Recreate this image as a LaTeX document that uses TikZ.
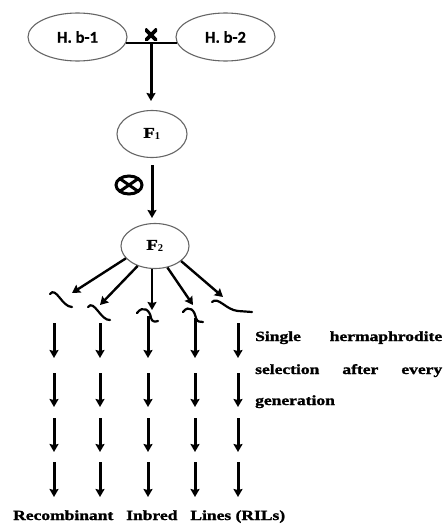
\documentclass[tikz,border=0pt]{standalone}
\usepackage{fontspec}
\setmainfont{Liberation Serif}
\newfontfamily\labelfont[FakeStretch=1.25,BoldFeatures={FakeBold=1.5}]{Liberation Serif}
\newfontfamily\parentfont[BoldFeatures={FakeBold=0.6}]{Carlito}
\usetikzlibrary{shapes.geometric,arrows.meta}

\tikzset{
  parent/.style={ellipse, draw=black!60, line width=1.1pt, minimum width=99pt,
    minimum height=48pt, inner sep=0pt, font=\parentfont\fontsize{16.5}{18}\selectfont\bfseries},
  gen/.style={ellipse, draw=black!60, line width=1.1pt, minimum width=70pt,
    minimum height=47pt, inner sep=0pt, font=\labelfont\fontsize{15}{17}\selectfont\bfseries},
  note/.style={inner sep=0pt, anchor=base west, font=\labelfont\fontsize{14}{16}\selectfont\bfseries},
  flow/.style={line width=3pt, -{Stealth[length=8pt,width=9pt,inset=1pt]}},
  fan/.style={line width=2.4pt, -{Stealth[length=8pt,width=9pt,inset=1pt]}},
  wave/.style={line width=2.2pt, line cap=round},
}

\begin{document}
\begin{tikzpicture}[x=1pt,y=-1pt]
\useasboundingbox (0,0) rectangle (443,524);

% parents and the cross between them
\node[parent] (hb1) at (77.5,37) {H. b-1};
\node[parent] (hb2) at (225.5,37) {H. b-2};
\coordinate (join) at (151,43);
\draw[line width=2.2pt] (hb1.-7) -- (hb2.187);
\node[minimum width=12pt, minimum height=12pt, inner sep=0pt,
  path picture={\draw[line width=3.8pt]
    (path picture bounding box.north west) -- (path picture bounding box.south east)
    (path picture bounding box.south west) -- (path picture bounding box.north east);}]
  (cross) at (151,35) {};

% generations
\node[gen] (f1) at (152,134) {F$_\mathbf{1}$};
\node[gen, minimum width=68pt, minimum height=45pt] (f2) at (155,246) {F$_\mathbf{2}$};
\coordinate (f1low) at (152,165);
\coordinate (f2high) at (152,218);
\draw[flow] (join) -- (join |- 0,101);
\draw[flow] (f1low) -- (f2high);

% selfing symbol
\node[ellipse, draw, line width=3pt, minimum width=26pt, minimum height=18pt, inner sep=0pt,
  path picture={\draw[line width=3pt]
    (path picture bounding box.north west) -- (path picture bounding box.south east)
    (path picture bounding box.south west) -- (path picture bounding box.north east);}]
  (self) at (129,185) {};

% single plants drawn from the F2
\coordinate (t1) at (72,293);
\coordinate (t2) at (100,305);
\coordinate (t3) at (152,310);
\coordinate (t4) at (193,305);
\coordinate (t5) at (223,297);
\draw[fan] (f2.203) -- (t1);
\draw[fan] (f2.229) -- (t2);
\draw[fan] (t3 |- f2.south) -- (t3);
\draw[fan] (f2.300) -- (t4);
\draw[fan] (f2.330) -- (t5);

\draw[wave] (50,294) .. controls (56,286) and (62,307) .. (72,307);
\draw[wave] (88,307) .. controls (94,299) and (101,321) .. (110,320);
\draw[wave] (137,313) .. controls (143,305) and (150,310) .. (151,318)
  .. controls (152,322) and (155,322) .. (158,321);
\draw[wave] (183,312) .. controls (189,304) and (195,311) .. (196,318)
  .. controls (197,322) and (200,322) .. (203,322);
\draw[wave] (212,302) .. controls (218,296) and (226,310) .. (238,311) -- (252,312);

% single seed descent columns
\foreach \c/\x/\s in {1/54/323, 2/100/323, 3/148/316, 4/195/318, 5/238/323} {
  \foreach \r/\ya/\yb in {1/\s/358, 2/373/407, 3/418/452, 4/462/497} {
    \coordinate (a\c\r) at (\x,\ya);
    \coordinate (b\c\r) at (\x,\yb);
    \draw[flow] (a\c\r) -- (b\c\r);
  }
}

% side note and final label
\node[note] (n1) at (255,341) {\makebox[187pt][l]{Single\hfill hermaphrodite}};
\node[note] (n2) at (255,374) {\makebox[187pt][l]{selection\hfill after\hfill every}};
\node[note] (n3) at (255,405) {generation};
\node[note] (ril) at (13,520) {\makebox[272pt][l]{Recombinant\hfill Inbred\hfill Lines (RILs)}};
\end{tikzpicture}
\end{document}
